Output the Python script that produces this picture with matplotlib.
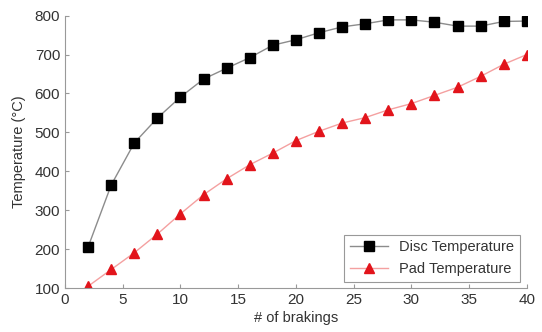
import matplotlib
matplotlib.use("Agg")
import matplotlib.pyplot as plt

plt.rcParams['font.family'] = ['Liberation Sans', 'DejaVu Sans']

brakings = [2, 4, 6, 8, 10, 12, 14, 16, 18, 20, 22, 24, 26, 28, 30, 32, 34, 36, 38, 40]
disc_temp = [206, 365, 473, 537, 591, 637, 665, 692, 724, 738, 756, 771, 779, 789, 789, 783, 773, 773, 785, 786]
pad_temp = [105, 148, 191, 239, 291, 340, 381, 417, 447, 479, 503, 524, 538, 558, 574, 595, 616, 644, 675, 700]

xticks = [0, 5, 10, 15, 20, 25, 30, 35, 40]
yticks = [100, 200, 300, 400, 500, 600, 700, 800]

fig = plt.figure(figsize=(5.42, 3.32), dpi=100)
ax = fig.add_axes([0.12, 0.132, 0.852, 0.821])

ax.plot(brakings, disc_temp, color='#8c8c8c', linewidth=1.0, marker='s',
        markersize=6.8, markerfacecolor='black', markeredgecolor='black',
        label='Disc Temperature')
ax.plot(brakings, pad_temp, color='#f4a0a0', linewidth=1.0, marker='^',
        markersize=7.5, markerfacecolor='#e2141b', markeredgecolor='#e2141b',
        label='Pad Temperature')

ax.set_xlim(0, 40)
ax.set_ylim(100, 800)
ax.set_xticks(xticks)
ax.set_yticks(yticks)

# nur linke und untere Achse
for s in ['top', 'right']:
    ax.spines[s].set_visible(False)
for s in ['left', 'bottom']:
    ax.spines[s].set_color('#999999')
ax.tick_params(direction='in', length=3, color='#999999', labelsize=11,
               labelcolor='#333333')

ax.set_xlabel('# of brakings', fontsize=10.5, color='#333333', labelpad=3)
ax.set_ylabel('Temperature (°C)', fontsize=10.5, color='#333333', labelpad=6)

leg = ax.legend(loc='lower right', fontsize=10.5, fancybox=False,
                framealpha=1, edgecolor='#999999', borderaxespad=0.45,
                handlelength=2.6)
leg.get_frame().set_linewidth(0.8)
for t in leg.get_texts():
    t.set_color('#333333')

plt.savefig('out.png', dpi=100)
